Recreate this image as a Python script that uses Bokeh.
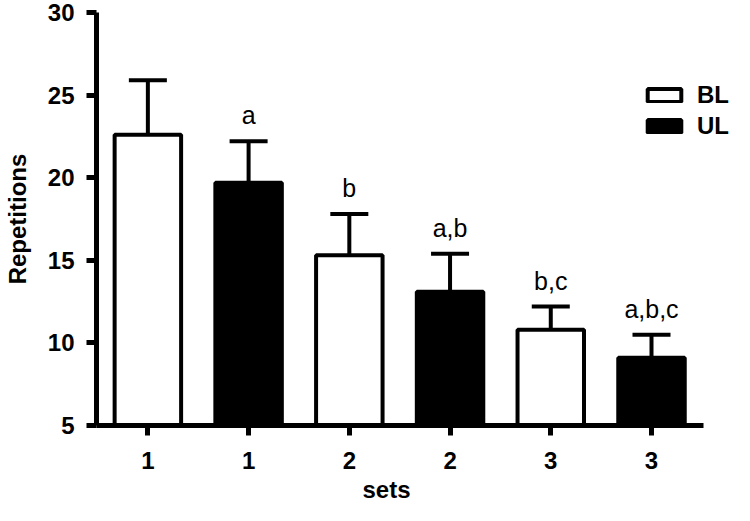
from bokeh.plotting import figure
from bokeh.models import ColumnDataSource, Whisker, TeeHead, Legend, LegendItem, FixedTicker, Title
from bokeh.embed import file_html
from bokeh.resources import INLINE
from bokeh.core.properties import value

# data
sets = ["1", "1", "2", "2", "3", "3"]
groups = ["BL", "UL", "BL", "UL", "BL", "UL"]
means = [22.6, 19.7, 15.3, 13.1, 10.8, 9.1]
sds = [3.3, 2.5, 2.5, 2.3, 1.4, 1.4]
letters = ["", "a", "b", "a,b", "b,c", "a,b,c"]
y_ticks = [5, 10, 15, 20, 25, 30]

xs = list(range(len(sets)))
tops = [m + s for m, s in zip(means, sds)]

src = ColumnDataSource(dict(x=xs, mean=means, top=tops, lab=letters))

FONT = "Liberation Sans"

p = figure(width=734, height=505, output_backend="svg", toolbar_location=None,
           x_range=(-0.51, 5.824), y_range=(5, 30),
           min_border_left=88, min_border_right=0, min_border_top=12, min_border_bottom=80)
p.outline_line_color = None
p.xgrid.visible = False
p.ygrid.visible = False
p.background_fill_color = "white"

bl_idx = [i for i, g in enumerate(groups) if g == "BL"]
ul_idx = [i for i, g in enumerate(groups) if g == "UL"]
src_bl = ColumnDataSource(dict(x=[xs[i] for i in bl_idx], mean=[means[i] for i in bl_idx]))
src_ul = ColumnDataSource(dict(x=[xs[i] for i in ul_idx], mean=[means[i] for i in ul_idx]))

r_bl = p.vbar(x="x", top="mean", bottom=5, width=0.66, source=src_bl,
              fill_color="white", line_color="black", line_width=4)
r_ul = p.vbar(x="x", top="mean", bottom=5, width=0.66, source=src_ul,
              fill_color="black", line_color="black", line_width=4)

w = Whisker(base="x", lower="mean", upper="top", source=src, dimension="height",
            line_color="black", line_width=4, lower_head=None,
            upper_head=TeeHead(size=38, line_color="black", line_width=4))
p.add_layout(w)

p.text(x="x", y="top", text="lab", source=src, text_align="center",
       text_baseline="alphabetic", y_offset=-26, text_font=value(FONT),
       text_font_size="25px", text_color="black")

# axes
for ax in (p.xaxis[0], p.yaxis[0]):
    ax.axis_line_width = 5
    ax.axis_line_color = "black"
    ax.major_tick_line_width = 5
    ax.major_tick_line_color = "black"
    ax.major_tick_out = 10
    ax.major_tick_in = 0
    ax.minor_tick_line_color = None
    ax.major_label_text_font = FONT
    ax.major_label_text_font_style = "bold"
    ax.major_label_text_font_size = "24px"
    ax.major_label_text_color = "black"
    ax.axis_label_text_font = FONT
    ax.axis_label_text_font_style = "bold"
    ax.axis_label_text_color = "black"

p.xaxis.ticker = FixedTicker(ticks=xs)
p.xaxis.major_label_overrides = {i: s for i, s in enumerate(sets)}
p.xaxis.major_label_standoff = 16
p.xaxis.bounds = (-0.51, 5.52)

p.add_layout(Title(text="sets", align="left", offset=266, text_font=FONT,
                   text_font_style="bold", text_font_size="24px", text_color="black",
                   standoff=4), "below")

p.yaxis.ticker = FixedTicker(ticks=y_ticks)
p.yaxis.major_label_standoff = 12
p.yaxis.axis_label = "Repetitions"
p.yaxis.axis_label_text_font_size = "24px"
p.yaxis.axis_label_standoff = 14

legend = Legend(items=[LegendItem(label="BL", renderers=[r_bl]),
                       LegendItem(label="UL", renderers=[r_ul])],
                location=(547, 285), orientation="vertical",
                glyph_width=42, glyph_height=16, label_standoff=12,
                spacing=3, padding=0, margin=0,
                label_text_font=FONT, label_text_font_style="bold",
                label_text_font_size="24px", label_text_color="black",
                border_line_color=None, background_fill_alpha=0)
p.add_layout(legend)

open("out.html", "w").write(file_html(p, INLINE))
